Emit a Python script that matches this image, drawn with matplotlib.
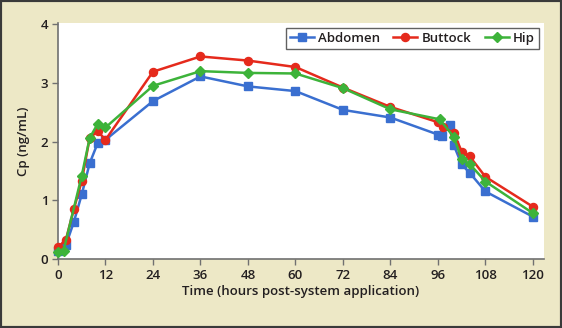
import matplotlib
matplotlib.use("Agg")
import matplotlib.pyplot as plt
from matplotlib.patches import Rectangle

# Plasma concentration (ng/mL) vs time after system application
abdomen_t = [0, 2, 4, 6, 8, 10, 12, 24, 36, 48, 60, 72, 84, 96, 97, 99, 100, 102, 104, 108, 120]
abdomen_cp = [0.13, 0.24, 0.63, 1.10, 1.63, 1.97, 2.03, 2.69, 3.11, 2.94, 2.86, 2.54, 2.41,
              2.12, 2.09, 2.29, 1.94, 1.61, 1.47, 1.15, 0.72]

buttock_t = [0, 2, 4, 6, 8, 10, 12, 24, 36, 48, 60, 72, 84, 96, 97.4, 100, 102, 104, 108, 120]
buttock_cp = [0.20, 0.33, 0.85, 1.33, 2.06, 2.18, 2.03, 3.19, 3.45, 3.38, 3.27, 2.92, 2.59,
              2.33, 2.24, 2.15, 1.83, 1.75, 1.40, 0.89]

hip_t = [0, 1.4, 6, 8, 10, 12, 24, 36, 48, 60, 72, 84, 96.4, 100, 102, 104, 108, 120]
hip_cp = [0.12, 0.14, 1.42, 2.06, 2.30, 2.24, 2.95, 3.20, 3.17, 3.16, 2.91, 2.55,
          2.38, 2.08, 1.70, 1.62, 1.32, 0.78]

x_ticks = [0, 12, 24, 36, 48, 60, 72, 84, 96, 108, 120]
y_ticks = [0, 1, 2, 3, 4]

bg = "#ede8c6"
txt = "#231f20"
font = "Open Sans"

fig = plt.figure(figsize=(5.62, 3.28), dpi=100)
fig.patch.set_facecolor(bg)
fig.patches.append(Rectangle((0, 0), 1, 1, transform=fig.transFigure, fill=False,
                             edgecolor="#3a3a3a", linewidth=3, zorder=10))

ax = fig.add_axes([58 / 562, 69 / 328, 486 / 562, 236 / 328])
ax.set_facecolor("white")

ax.plot(abdomen_t, abdomen_cp, color="#3a6fd0", marker="s", markersize=5.2, linewidth=1.8,
        label="Abdomen", clip_on=False, zorder=3)
ax.plot(buttock_t, buttock_cp, color="#e52a1c", marker="o", markersize=5.8, linewidth=1.8,
        label="Buttock", clip_on=False, zorder=3)
ax.plot(hip_t, hip_cp, color="#3db33a", marker="D", markersize=5.2, linewidth=1.8,
        label="Hip", clip_on=False, zorder=3)

ax.set_xlim(0, 122.8)
ax.set_ylim(0, 4.02)
ax.set_xticks(x_ticks)
ax.set_yticks(y_ticks)

for s in ["top", "right"]:
    ax.spines[s].set_visible(False)
for s in ["left", "bottom"]:
    ax.spines[s].set_color("#707070")
    ax.spines[s].set_linewidth(1.2)
ax.tick_params(colors="#707070", length=4, width=1, labelcolor=txt, labelsize=9.5, pad=3)
for lab in ax.get_xticklabels() + ax.get_yticklabels():
    lab.set_family(font)
    lab.set_weight("semibold")

ax.set_xlabel("Time (hours post-system application)", fontsize=9.5, family=font,
              weight="semibold", color=txt, labelpad=2)
ax.set_ylabel("Cp (ng/mL)", fontsize=9.5, family=font, weight="semibold", color=txt, labelpad=8)

leg = ax.legend(loc="upper right", bbox_to_anchor=(481 / 486, 1.0 - 5 / 236), ncol=3,
                frameon=True, fancybox=False, handlelength=1.8, handletextpad=0.35,
                columnspacing=1.0, borderpad=0.3, borderaxespad=0,
                prop={"family": font, "weight": "semibold", "size": 9.5})
leg.get_frame().set_edgecolor("#3a3a3a")
leg.get_frame().set_linewidth(1.0)
for t in leg.get_texts():
    t.set_color(txt)

fig.savefig("out.png", dpi=100, facecolor=bg)
